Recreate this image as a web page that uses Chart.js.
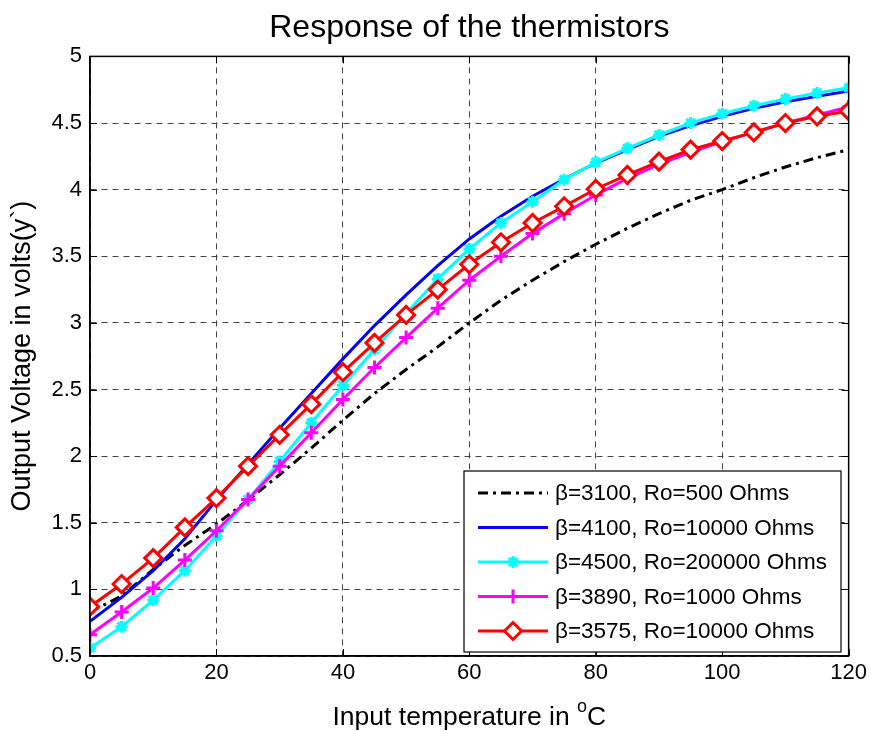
<!DOCTYPE html>
<html>
<head>
<meta charset="utf-8">
<script src="https://cdn.jsdelivr.net/npm/chart.js@4"></script>
<style>
  body { margin: 0; background: #fff; }
  #wrap { width: 871px; height: 731px; position: relative; }
</style>
</head>
<body>
<div id="wrap"><canvas id="myChart"></canvas></div>
<script>
// input temperature, deg C
const temps = [0, 5, 10, 15, 20, 25, 30, 35, 40, 45, 50, 55, 60, 65, 70, 75, 80, 85, 90, 95, 100, 105, 110, 115, 120];

// output voltage for each thermistor
const b3100 = [0.83, 0.95, 1.15, 1.33, 1.49, 1.67, 1.86, 2.06, 2.27, 2.47, 2.65, 2.82, 3.00, 3.17, 3.32, 3.46, 3.59, 3.71, 3.82, 3.92, 4.00, 4.09, 4.17, 4.24, 4.30];
const b4100 = [0.76, 0.94, 1.14, 1.38, 1.67, 1.94, 2.21, 2.47, 2.73, 2.98, 3.21, 3.43, 3.63, 3.80, 3.95, 4.08, 4.20, 4.30, 4.40, 4.48, 4.55, 4.61, 4.66, 4.70, 4.74];
const b4500 = [0.56, 0.72, 0.92, 1.14, 1.40, 1.675, 1.96, 2.25, 2.53, 2.80, 3.07, 3.33, 3.555, 3.75, 3.91, 4.075, 4.205, 4.31, 4.41, 4.50, 4.57, 4.63, 4.68, 4.725, 4.765];
const b3890 = [0.66, 0.83, 1.01, 1.22, 1.44, 1.675, 1.925, 2.175, 2.425, 2.665, 2.89, 3.11, 3.32, 3.50, 3.67, 3.82, 3.96, 4.085, 4.19, 4.28, 4.36, 4.43, 4.50, 4.56, 4.62];
const b3575 = [0.87, 1.04, 1.235, 1.465, 1.685, 1.925, 2.16, 2.39, 2.63, 2.85, 3.06, 3.25, 3.44, 3.605, 3.75, 3.875, 4.005, 4.11, 4.21, 4.30, 4.365, 4.43, 4.50, 4.55, 4.59];

const labels = [
  "\u03b2=3100, Ro=500 Ohms",
  "\u03b2=4100, Ro=10000 Ohms",
  "\u03b2=4500, Ro=200000 Ohms",
  "\u03b2=3890, Ro=1000 Ohms",
  "\u03b2=3575, Ro=10000 Ohms"
];
const xTicks = [0, 20, 40, 60, 80, 100, 120];
const yTicks = [0.5, 1, 1.5, 2, 2.5, 3, 3.5, 4, 4.5, 5];

const FONT = "'Liberation Sans', Arial, sans-serif";

function pts(ys) {
  return temps.map((t, i) => ({ x: t, y: ys[i] }));
}

// box + inner ticks, x title with raised "o", legend inside lower right
const boxLegend = {
  id: "boxLegend",
  afterDatasetsDraw(chart) {
    const ctx = chart.ctx;
    const a = chart.chartArea;
    const sx = chart.scales.x, sy = chart.scales.y;
    ctx.save();
    ctx.strokeStyle = "#000";
    ctx.lineWidth = 1.5;
    ctx.setLineDash([]);
    ctx.strokeRect(a.left, a.top, a.right - a.left, a.bottom - a.top);

    // MATLAB style inward ticks
    ctx.lineWidth = 1;
    ctx.beginPath();
    xTicks.forEach(v => {
      const px = Math.round(sx.getPixelForValue(v)) + 0.5;
      ctx.moveTo(px, a.bottom); ctx.lineTo(px, a.bottom - 7);
      ctx.moveTo(px, a.top); ctx.lineTo(px, a.top + 7);
    });
    yTicks.forEach(v => {
      const py = Math.round(sy.getPixelForValue(v)) + 0.5;
      ctx.moveTo(a.left, py); ctx.lineTo(a.left + 7, py);
      ctx.moveTo(a.right, py); ctx.lineTo(a.right - 7, py);
    });
    ctx.stroke();

    // x axis title
    const main = "Input temperature in ";
    ctx.fillStyle = "#000";
    ctx.textBaseline = "alphabetic";
    ctx.textAlign = "left";
    ctx.font = "26.5px " + FONT;
    const w1 = ctx.measureText(main).width;
    const wC = ctx.measureText("C").width;
    ctx.font = "18px " + FONT;
    const wo = ctx.measureText("o").width;
    let x0 = (a.left + a.right) / 2 - (w1 + wo + wC) / 2;
    const base = 725;
    ctx.font = "26.5px " + FONT;
    ctx.fillText(main, x0, base);
    ctx.font = "18px " + FONT;
    ctx.fillText("o", x0 + w1, base - 13);
    ctx.font = "26.5px " + FONT;
    ctx.fillText("C", x0 + w1 + wo, base);

    const bx = 464, by = 471, bw = 377, bh = 181;
    ctx.fillStyle = "#fff";
    ctx.fillRect(bx, by, bw, bh);
    ctx.lineWidth = 1.2;
    ctx.strokeStyle = "#000";
    ctx.strokeRect(bx, by, bw, bh);

    chart.data.datasets.forEach((ds, i) => {
      const y = 493 + i * 34.5;
      ctx.save();
      ctx.strokeStyle = ds.borderColor;
      ctx.lineWidth = ds.borderWidth;
      ctx.setLineDash(ds.borderDash || []);
      ctx.beginPath();
      ctx.moveTo(478, y);
      ctx.lineTo(548, y);
      ctx.stroke();
      ctx.restore();
      if (ds.pointRadius > 0) {
        ctx.save();
        ctx.fillStyle = ds.pointBackgroundColor;
        ctx.strokeStyle = ds.borderColor;
        ctx.lineWidth = ds.pointBorderWidth;
        Chart.helpers.drawPoint(ctx, {
          pointStyle: ds.pointStyle,
          radius: ds.pointRadius,
          borderWidth: ds.pointBorderWidth,
          rotation: 0
        }, 513, y);
        ctx.restore();
      }
      ctx.fillStyle = "#000";
      ctx.font = "22.5px " + FONT;
      ctx.textBaseline = "middle";
      ctx.textAlign = "left";
      ctx.fillText(ds.label, 555, y + 1);
    });
    ctx.restore();
  }
};

const ctx = document.getElementById("myChart").getContext("2d");
new Chart(ctx, {
  type: "line",
  data: {
    datasets: [
      { label: labels[0], data: pts(b3100), borderColor: "#000000", borderWidth: 3, borderDash: [10, 5, 3, 5],
        pointRadius: 0, order: 5 },
      { label: labels[1], data: pts(b4100), borderColor: "#0000ff", borderWidth: 3,
        pointRadius: 0, order: 4 },
      { label: labels[2], data: pts(b4500), borderColor: "#00ffff", borderWidth: 3,
        pointStyle: "star", pointRadius: 6, pointBorderWidth: 3, pointBackgroundColor: "#00ffff", order: 3 },
      { label: labels[3], data: pts(b3890), borderColor: "#ff00ff", borderWidth: 3,
        pointStyle: "cross", pointRadius: 7, pointBorderWidth: 3, pointBackgroundColor: "#ff00ff", order: 2 },
      { label: labels[4], data: pts(b3575), borderColor: "#ff0000", borderWidth: 3,
        pointStyle: "rectRot", pointRadius: 8.5, pointBorderWidth: 3, pointBackgroundColor: "#ffffff", order: 1 }
    ]
  },
  options: {
    responsive: true,
    maintainAspectRatio: false,
    animation: false,
    layout: { padding: { left: 0, right: 22, top: 0, bottom: 0 } },
    plugins: {
      legend: { display: false },
      tooltip: { enabled: false },
      title: {
        display: true,
        fullSize: false,
        text: "Response of the thermistors",
        color: "#000",
        font: { family: FONT, size: 32, weight: "normal" },
        padding: { top: 9, bottom: 9 }
      }
    },
    elements: { line: { tension: 0 } },
    scales: {
      x: {
        type: "linear",
        min: 0,
        max: 120,
        afterBuildTicks: (s) => { s.ticks = xTicks.map(v => ({ value: v })); },
        afterFit: (s) => { s.height = 75; },
        ticks: { color: "#000", font: { family: FONT, size: 22 }, padding: 4 },
        grid: { color: "#444", lineWidth: 1, drawTicks: false },
        border: { display: true, color: "#000", width: 1.5, dash: [6, 5] },
        title: { display: false }
      },
      y: {
        type: "linear",
        min: 0.5,
        max: 5,
        afterBuildTicks: (s) => { s.ticks = yTicks.map(v => ({ value: v })); },
        afterFit: (s) => { s.width = 90; },
        ticks: {
          color: "#000",
          font: { family: FONT, size: 22 },
          padding: 8,
          callback: (v) => String(v)
        },
        grid: { color: "#444", lineWidth: 1, drawTicks: false },
        border: { display: true, color: "#000", width: 1.5, dash: [6, 5] },
        title: {
          display: true,
          text: "Output Voltage in volts(y`)",
          color: "#000",
          font: { family: FONT, size: 27 },
          padding: { top: 6, bottom: 0 }
        }
      }
    }
  },
  plugins: [boxLegend]
});
</script>
</body>
</html>
